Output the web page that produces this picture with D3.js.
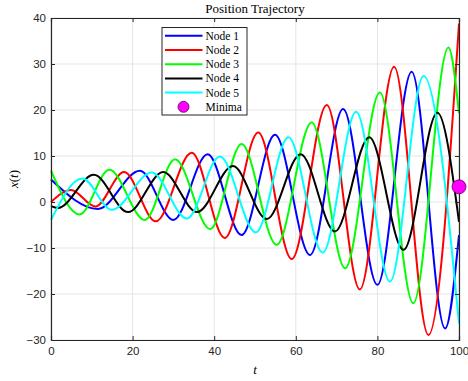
<!DOCTYPE html>
<html>
<head>
<meta charset="utf-8">
<script src="https://cdn.jsdelivr.net/npm/d3@7"></script>
<style>
  html, body { margin: 0; padding: 0; background: #fff; }
  svg { display: block; }
</style>
</head>
<body>
<svg id="chart" width="468" height="381"></svg>
<script>
// ---- data (extrema and end points of each trajectory) ----
const node1T = [0, 11.5, 21.8, 30, 38.4, 46.7, 54.9, 63.5, 71.6, 80, 88.4, 96.6, 100];
const node1X = [4.9, -1.5, 6.8, -3.9, 10.4, -7.2, 14.6, -11.5, 20.2, -18, 28.3, -27.5, -7.2];

const node2T = [0, 4.9, 10.9, 17.9, 25.7, 34.5, 42.6, 50.8, 59, 67.6, 75.7, 84.1, 92.5, 100];
const node2X = [0, 2.6, -1.0, 6.5, -4.2, 10.7, -7.8, 15.1, -12.4, 21.1, -19, 29.4, -28.9, 38.8];

const node3T = [0, 7, 14.3, 23, 30.4, 39, 46.7, 55.3, 63.9, 72.1, 80.6, 88.8, 97.4, 100];
const node3X = [6.8, -2.7, 7, -3.9, 9.3, -5.9, 12.6, -9.3, 17.3, -14.4, 23.8, -22, 33.6, 19.3];

const node4T = [0, 1.7, 10.5, 18.9, 27.5, 35.8, 44.6, 52.9, 61.2, 69.6, 78, 86.4, 94.7, 100];
const node4X = [-0.9, -1.3, 5.9, -2.2, 6.5, -2.2, 7.8, -3.7, 10.4, -6.4, 14.1, -10.4, 19.4, -4.3];

const node5T = [0, 7.7, 14.9, 24.7, 33.3, 41.4, 50.2, 58.2, 66.6, 74.8, 83.1, 91.3, 100];
const node5X = [-3.9, 5.1, -1.7, 6.4, -3.6, 9.9, -6.6, 14.1, -11, 19.6, -17.3, 27.4, -26.4];

const minimaT = [100];
const minimaX = [3.3];

const seriesNames = ["Node 1", "Node 2", "Node 3", "Node 4", "Node 5"];
const seriesColors = ["#0000ff", "#ff0000", "#00ff00", "#000000", "#00ffff"];
const xTicks = [0, 20, 40, 60, 80, 100];
const yTicks = [-30, -20, -10, 0, 10, 20, 30, 40];

const series = [
  [node1T, node1X], [node2T, node2X], [node3T, node3X], [node4T, node4X], [node5T, node5X]
];

// ---- layout ----
const svg = d3.select("#chart");
const L = 51, R = 459, T = 18, B = 340;
const x = d3.scaleLinear().domain([0, 100]).range([L, R]);
const y = d3.scaleLinear().domain([-30, 40]).range([B, T]);
const axColor = "#262626";
const tickFont = "'Liberation Sans', Arial, sans-serif";
const serif = "'Liberation Serif', 'Times New Roman', serif";

// grid
const grid = svg.append("g");
grid.selectAll("line.gx").data(xTicks).join("line")
  .attr("x1", d => x(d)).attr("x2", d => x(d)).attr("y1", T).attr("y2", B)
  .attr("stroke", "#e5e5e5").attr("stroke-width", 1);
grid.selectAll("line.gy").data(yTicks).join("line")
  .attr("y1", d => y(d)).attr("y2", d => y(d)).attr("x1", L).attr("x2", R)
  .attr("stroke", "#e5e5e5").attr("stroke-width", 1);

// curves
const line = d3.line().x(d => x(d[0])).y(d => y(d[1])).curve(d3.curveMonotoneX);
const plot = svg.append("g");
series.forEach((s, i) => {
  const pts = s[0].map((t, j) => [t, s[1][j]]);
  plot.append("path").datum(pts)
    .attr("d", line).attr("fill", "none")
    .attr("stroke", seriesColors[i]).attr("stroke-width", 2)
    .attr("stroke-linejoin", "round");
});

// axes (box with ticks on all sides)
const fmt = d3.format("d");
const axB = svg.append("g").attr("transform", `translate(0,${B})`)
  .call(d3.axisBottom(x).tickValues(xTicks).tickSize(-4).tickPadding(7).tickFormat(fmt));
const axL = svg.append("g").attr("transform", `translate(${L},0)`)
  .call(d3.axisLeft(y).tickValues(yTicks).tickSize(-4).tickPadding(5).tickFormat(fmt));
const axT = svg.append("g").attr("transform", `translate(0,${T})`)
  .call(d3.axisTop(x).tickValues(xTicks).tickSize(-4).tickFormat(""));
const axR = svg.append("g").attr("transform", `translate(${R},0)`)
  .call(d3.axisRight(y).tickValues(yTicks).tickSize(-4).tickFormat(""));
[axB, axL, axT, axR].forEach(g => {
  g.select(".domain").attr("stroke", axColor).attr("stroke-width", 1.2);
  g.selectAll(".tick line").attr("stroke", axColor);
  g.selectAll(".tick text").attr("fill", axColor)
    .style("font-family", tickFont).style("font-size", "11.5px");
});

// minima marker
svg.append("g").selectAll("circle").data(minimaT.map((t, i) => [t, minimaX[i]])).join("circle")
  .attr("cx", d => x(d[0])).attr("cy", d => y(d[1])).attr("r", 7)
  .attr("fill", "#ff00ff").attr("stroke", "#5a005a").attr("stroke-width", 0.8);

// title and labels
svg.append("text").attr("x", (L + R) / 2).attr("y", 13).attr("text-anchor", "middle")
  .style("font-family", serif).style("font-size", "13px").attr("fill", "#000")
  .text("Position Trajectory");
svg.append("text").attr("x", (L + R) / 2).attr("y", 374).attr("text-anchor", "middle")
  .style("font-family", serif).style("font-size", "13px").style("font-style", "italic")
  .text("t");
svg.append("text").attr("transform", `translate(18,${(T + B) / 2}) rotate(-90)`)
  .attr("text-anchor", "middle")
  .style("font-family", serif).style("font-size", "13px")
  .html('<tspan font-style="italic">x</tspan>(<tspan font-style="italic">t</tspan>)');

// legend
const lg = svg.append("g");
lg.append("rect").attr("x", 162).attr("y", 27.5).attr("width", 85).attr("height", 87.5)
  .attr("fill", "#fff").attr("stroke", axColor).attr("stroke-width", 1);
const rowY = i => 35.8 + i * 14.2;
seriesNames.forEach((n, i) => {
  lg.append("line").attr("x1", 165).attr("x2", 202.5).attr("y1", rowY(i)).attr("y2", rowY(i))
    .attr("stroke", seriesColors[i]).attr("stroke-width", 2);
  lg.append("text").attr("x", 205.5).attr("y", rowY(i) + 4)
    .style("font-family", serif).style("font-size", "11.5px").text(n);
});
lg.append("circle").attr("cx", 183.5).attr("cy", rowY(5)).attr("r", 5.5)
  .attr("fill", "#ff00ff").attr("stroke", "#5a005a").attr("stroke-width", 0.8);
lg.append("text").attr("x", 205.5).attr("y", rowY(5) + 4)
  .style("font-family", serif).style("font-size", "11.5px").text("Minima");
</script>
</body>
</html>
